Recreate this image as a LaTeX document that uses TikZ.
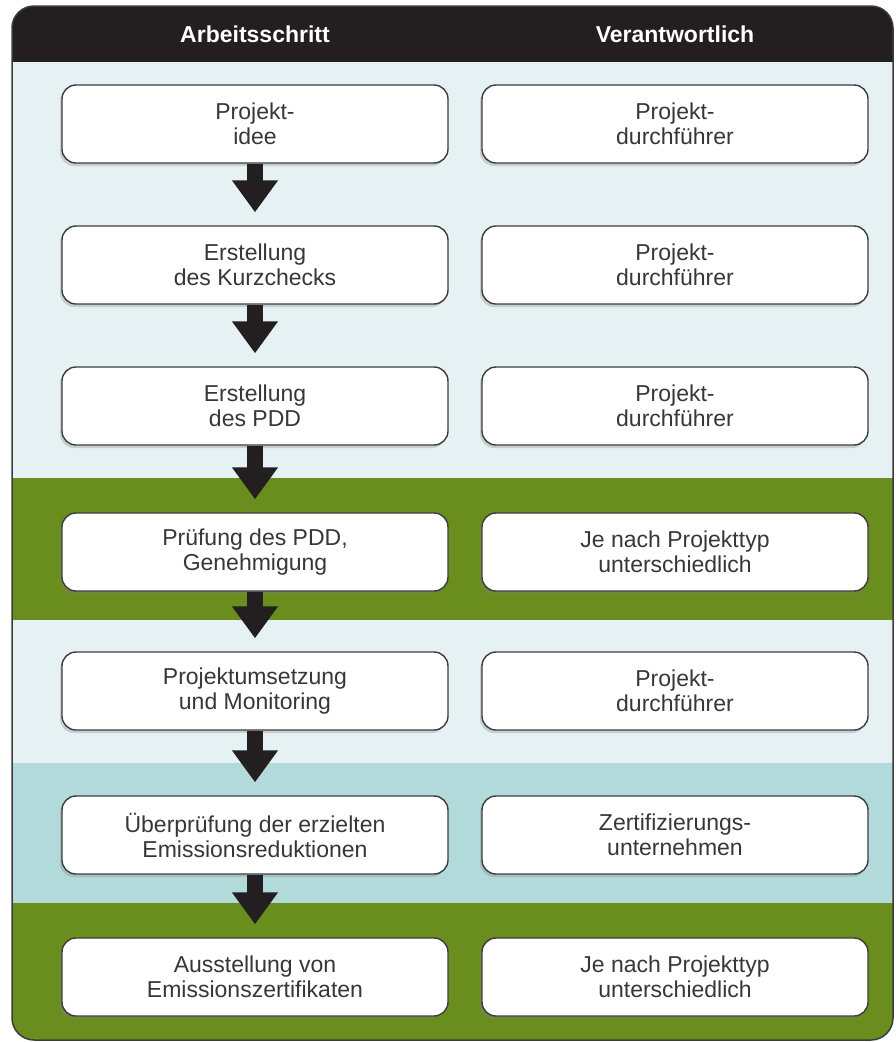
\documentclass[tikz,border=0pt]{standalone}
\usepackage{fontspec}
\setmainfont{Liberation Sans}
\usetikzlibrary{arrows.meta,shadows}
\definecolor{headblack}{RGB}{35,31,32}
\definecolor{paleblue}{RGB}{230,241,243}
\definecolor{grassgreen}{RGB}{106,142,30}
\definecolor{seateal}{RGB}{178,218,219}
\definecolor{framegrey}{RGB}{60,60,60}
\definecolor{textgrey}{RGB}{55,55,55}
\begin{document}
\begin{tikzpicture}[x=1pt,y=-1pt,
  stepbox/.style={draw=framegrey,line width=1.4pt,fill=white,rounded corners=14pt,
    minimum width=386pt,minimum height=78pt,align=center,text=textgrey,
    font=\fontsize{23}{25}\selectfont,
    drop shadow={shadow xshift=-2pt,shadow yshift=-3pt,opacity=.3}},
  headtext/.style={text=white,font=\fontsize{23}{25}\selectfont\bfseries},
  bigarrow/.style={draw=headblack,line width=16pt,
    -{Triangle[width=44pt,length=32pt]},shorten >=13pt}]
\useasboundingbox (0,0) rectangle (895,1042);
% coloured bands
\begin{scope}
\clip[rounded corners=22pt] (12,6) rectangle (893,1040);
\fill[headblack] (12,6) rectangle (893,62);
\fill[paleblue] (12,62) rectangle (893,478);
\fill[grassgreen] (12,478) rectangle (893,620);
\fill[paleblue] (12,620) rectangle (893,763);
\fill[seateal] (12,763) rectangle (893,903);
\fill[grassgreen] (12,903) rectangle (893,1040);
\end{scope}
\draw[framegrey,line width=1.5pt,rounded corners=22pt] (12,6) rectangle (893,1040);
\node[headtext] (head1) at (255,34) {Arbeitsschritt};
\node[headtext] (head2) at (675,34) {Verantwortlich};
% steps and who is responsible
\foreach \i/\y/\a/\b in {1/124/{Projekt-\\idee}/{Projekt-\\durchführer},
  2/265/{Erstellung\\des Kurzchecks}/{Projekt-\\durchführer},
  3/406/{Erstellung\\des PDD}/{Projekt-\\durchführer},
  4/552/{Prüfung des PDD,\\Genehmigung}/{Je nach Projekttyp\\unterschiedlich},
  5/691/{Projektumsetzung\\und Monitoring}/{Projekt-\\durchführer},
  6/835/{Überprüfung der erzielten\\Emissionsreduktionen}/{Zertifizierungs-\\unternehmen},
  7/977/{Ausstellung von\\Emissionszertifikaten}/{Je nach Projekttyp\\unterschiedlich}}
{
\node[stepbox] (step\i) at (255,\y) {\a};
\node[stepbox] (resp\i) at (675,\y) {\b};
}
\foreach \i [count=\j from 2] in {1,...,6}
\draw[bigarrow] (step\i) -- (step\j);
\end{tikzpicture}
\end{document}
